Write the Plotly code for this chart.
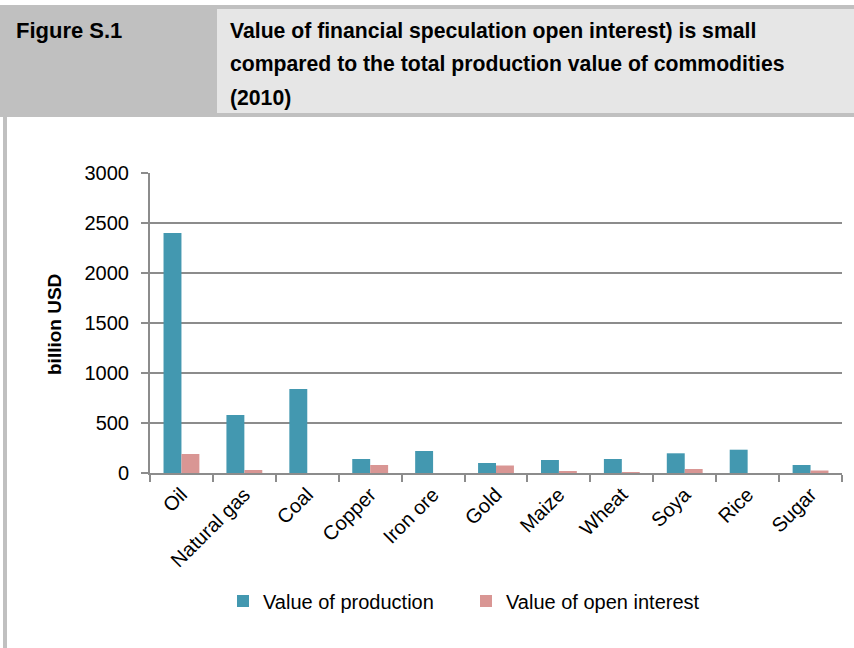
import plotly.graph_objects as go

categories = ["Oil", "Natural gas", "Coal", "Copper", "Iron ore", "Gold",
              "Maize", "Wheat", "Soya", "Rice", "Sugar"]
production = [2400, 580, 840, 140, 220, 100, 130, 140, 197, 233, 80]
open_interest = [190, 30, 0, 80, 0, 75, 20, 5, 40, 0, 25]
y_ticks = [0, 500, 1000, 1500, 2000, 2500, 3000]

W, H = 854, 648
L, R, T, B = 150, 12, 173, 175
PW, PH = W - L - R, H - T - B


def px(x):
    return (x - L) / PW


def py(y):
    return (H - B - y) / PH


FONT = "Liberation Sans, Arial, sans-serif"

fig = go.Figure()
fig.add_trace(go.Bar(x=categories, y=production, name="Value of production",
                     marker=dict(color="#4398B0", line=dict(width=0))))
fig.add_trace(go.Bar(x=categories, y=open_interest, name="Value of open interest",
                     marker=dict(color="#D99694", line=dict(width=0))))

shapes = [
    dict(type="rect", xref="paper", yref="paper", x0=px(0), x1=px(W), y0=py(5), y1=py(117),
         fillcolor="#C0C0C0", line=dict(width=0), layer="below"),
    dict(type="rect", xref="paper", yref="paper", x0=px(217), x1=px(W), y0=py(9), y1=py(113),
         fillcolor="#E6E6E6", line=dict(width=0), layer="below"),
    dict(type="rect", xref="paper", yref="paper", x0=px(3), x1=px(7), y0=py(117), y1=py(H),
         fillcolor="#C0C0C0", line=dict(width=0), layer="below"),
]

ann = [
    dict(text="<b>Figure S.1</b>", x=px(14), y=py(31), size=22),
    dict(text="<b>Value of financial speculation open interest) is small</b>", x=px(228), y=py(31), size=21.2),
    dict(text="<b>compared to the total production value of commodities</b>", x=px(228), y=py(64), size=21.2),
    dict(text="<b>(2010)</b>", x=px(228), y=py(98), size=21.2),
]
annotations = []
for a in ann:
    size = a.pop("size")
    a.update(xref="paper", yref="paper", xanchor="left", yanchor="middle", showarrow=False,
             font=dict(family=FONT, size=size, color="#000000"))
    annotations.append(a)
annotations.append(dict(text="<b>billion USD</b>", xref="paper", yref="paper", x=px(54), y=py(325),
                        xanchor="center", yanchor="middle", showarrow=False, textangle=-90,
                        font=dict(family=FONT, size=19, color="#000000")))

fig.update_layout(
    width=W, height=H,
    margin=dict(l=L, r=R, t=T, b=B, pad=0),
    paper_bgcolor="#FFFFFF", plot_bgcolor="#FFFFFF",
    barmode="group", bargap=0.43, bargroupgap=0,
    shapes=shapes, annotations=annotations,
    font=dict(family=FONT, size=20, color="#000000"),
    showlegend=True,
    legend=dict(orientation="h", x=px(466), y=py(601), xanchor="center", yanchor="middle",
                entrywidth=198, entrywidthmode="pixels",
                font=dict(family=FONT, size=20, color="#000000"), bgcolor="rgba(0,0,0,0)"),
    xaxis=dict(tickangle=-45, ticks="outside", ticklen=7, tickcolor="#8C8C8C", tickwidth=2,
               tickson="boundaries", showline=True, linecolor="#8C8C8C", linewidth=2,
               showgrid=False, tickfont=dict(family=FONT, size=20, color="#000000")),
    yaxis=dict(range=[0, 3000], tickvals=y_ticks, ticks="outside", ticklen=7,
               ticklabelstandoff=8,
               tickcolor="#8C8C8C", tickwidth=2, showline=True, linecolor="#8C8C8C", linewidth=2,
               showgrid=True, gridcolor="#8C8C8C", gridwidth=2, zeroline=False,
               tickfont=dict(family=FONT, size=20, color="#000000")),
)

fig.write_html("out.html", config={"displayModeBar": False},
               post_script="document.body.style.margin='0';")
